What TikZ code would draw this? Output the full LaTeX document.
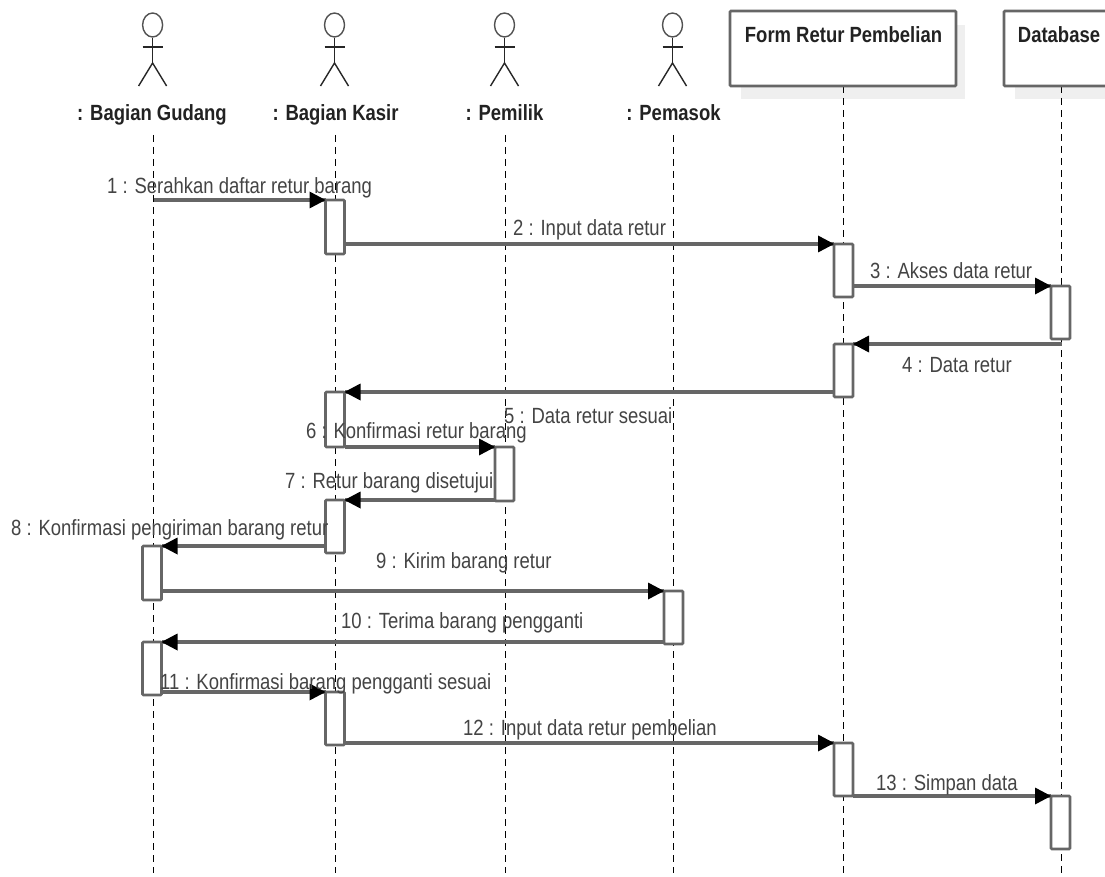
\documentclass[tikz,border=0pt]{standalone}
\usepackage{fontspec}
\setmainfont[FakeStretch=0.84]{Liberation Sans}
\definecolor{linegrey}{HTML}{666666}
\definecolor{shadowgrey}{HTML}{EFEFEF}
\definecolor{msgtext}{HTML}{444444}
\definecolor{headtext}{HTML}{222222}
\usetikzlibrary{shapes.geometric}
\tikzset{
  lifeline/.style={draw=black,line width=1.5pt,dash pattern=on 7pt off 5pt},
  activation/.style={draw=linegrey,fill=white,line width=2.6pt,rounded corners=1pt,minimum width=19pt,inner sep=0pt,outer sep=0pt,anchor=north west},
  msg/.style={draw=linegrey,line width=3.2pt},
  msgtip/.style={fill=black,draw=none},
  objbox/.style={draw=linegrey,fill=white,line width=2.6pt,rounded corners=1pt,inner sep=0pt,outer sep=0pt,anchor=north west,minimum height=75pt},
  objshadow/.style={fill=shadowgrey,draw=none,inner sep=0pt,outer sep=0pt,anchor=north west,minimum height=74pt},
  msglabel/.style={anchor=base west,inner sep=0pt,text=msgtext,font=\fontsize{22pt}{24pt}\selectfont},
  headlabel/.style={anchor=base,inner sep=0pt,text=headtext,font=\fontsize{22pt}{24pt}\selectfont\bfseries},
  actorhead/.style={draw=linegrey!80!black,fill=white,line width=1.4pt,ellipse,minimum width=20pt,minimum height=24pt,inner sep=0pt},
  actorline/.style={draw=black!85,line width=1.4pt},
}
\newcommand{\msgarrow}[3]{%
  \draw[msg] (#1) -- (#2);
  \fill[msgtip] (#2) -- ++(#3*16pt,8.5pt) -- ++(0,-17pt) -- cycle;
}
\newcommand{\actor}[2]{%
  \node[actorhead] (#2head) at (#1,-25) {};
  \coordinate (#2neck) at (#1,-63);
  \coordinate (#2hipl) at (#1-14,-86);
  \coordinate (#2hipr) at (#1+14,-86);
  \coordinate (#2arml) at (#1-10,-47);
  \coordinate (#2armr) at (#1+10,-47);
  \draw[actorline] (#2head.south) -- (#2neck);
  \draw[actorline] (#2arml) -- (#2armr);
  \draw[actorline] (#2hipl) -- (#2neck) -- (#2hipr);
}
\begin{document}
\begin{tikzpicture}[x=1pt,y=1pt]
\useasboundingbox (0,0) rectangle (1105,-877);
\fill[white] (0,0) rectangle (1105,-877);

% object shadows
\node[objshadow,minimum width=224pt] (formshadow) at (741,-25) {};
\begin{scope}
\clip (0,0) rectangle (1105,-877);
\node[objshadow,minimum width=130pt] (dbshadow) at (1015,-25) {};
\end{scope}

% lifelines
\coordinate (gt) at (153.5,-135);  \coordinate (gb) at (153.5,-873);
\coordinate (kt) at (335.5,-135);\coordinate (kb) at (335.5,-873);
\coordinate (pt) at (505.5,-135);  \coordinate (pb) at (505.5,-873);
\coordinate (st) at (673.5,-135);\coordinate (sb) at (673.5,-873);
\coordinate (ft) at (843.5,-86); \coordinate (fb) at (843.5,-873);
\coordinate (dt) at (1061.5,-86);  \coordinate (db) at (1061.5,-873);
\draw[lifeline] (gt) -- (gb);
\draw[lifeline] (kt) -- (kb);
\draw[lifeline] (pt) -- (pb);
\draw[lifeline] (st) -- (sb);
\draw[lifeline] (ft) -- (fb);
\draw[lifeline] (dt) -- (db);

% objects
\node[objbox,minimum width=226pt] (form) at (730,-11) {};
\node[objbox,minimum width=130pt] (database) at (1004,-11) {};
\node[headlabel] (formlabel) at (843.5,-43) {Form Retur Pembelian};
\node[headlabel] (dblabel) at (1059,-43) {Database};

% actors
\actor{152.6}{gudang}
\actor{334.5}{kasir}
\actor{504.5}{pemilik}
\actor{672.5}{pemasok}
\node[headlabel] (gudanglabel) at (152,-121) {: Bagian Gudang};
\node[headlabel] (kasirlabel) at (335.5,-121) {: Bagian Kasir};
\node[headlabel] (pemiliklabel) at (504.5,-121) {: Pemilik};
\node[headlabel] (pemasoklabel) at (673.5,-121) {: Pemasok};

% activations
\node[activation,minimum height=54pt] (a1) at (325.5,-200) {};
\node[activation,minimum height=53pt] (a2) at (834,-244) {};
\node[activation,minimum height=53pt] (a3) at (1051,-286) {};
\node[activation,minimum height=53pt] (a4) at (834,-344) {};
\node[activation,minimum height=55pt] (a5) at (325.5,-392) {};
\node[activation,minimum height=54pt] (a6) at (495,-447) {};
\node[activation,minimum height=53pt] (a7) at (325.5,-500) {};
\node[activation,minimum height=54pt] (a8) at (142.5,-546) {};
\node[activation,minimum height=53pt] (a9) at (664,-591) {};
\node[activation,minimum height=53pt] (a10) at (142.5,-642) {};
\node[activation,minimum height=53pt] (a11) at (325.5,-692) {};
\node[activation,minimum height=53pt] (a12) at (834,-743) {};
\node[activation,minimum height=53pt] (a13) at (1051,-796) {};

% messages
\msgarrow{gt |- a1.north west}{a1.north west}{-1}
\msgarrow{a1.east |- a2.north west}{a2.north west}{-1}
\msgarrow{a2.east |- a3.north west}{a3.north west}{-1}
\msgarrow{dt |- a4.north east}{a4.north east}{1}
\msgarrow{a4.west |- a5.north east}{a5.north east}{1}
\msgarrow{a5.east |- a6.north west}{a6.north west}{-1}
\msgarrow{a6.west |- a7.north east}{a7.north east}{1}
\msgarrow{a7.west |- a8.north east}{a8.north east}{1}
\msgarrow{a8.east |- a9.north west}{a9.north west}{-1}
\msgarrow{a9.west |- a10.north east}{a10.north east}{1}
\msgarrow{a10.east |- a11.north west}{a11.north west}{-1}
\msgarrow{a11.east |- a12.north west}{a12.north west}{-1}
\msgarrow{a12.east |- a13.north west}{a13.north west}{-1}

% message labels
\node[msglabel] (l1) at (107,-194) {1 : Serahkan daftar retur barang};
\node[msglabel] (l2) at (513,-236) {2 : Input data retur};
\node[msglabel] (l3) at (870,-278) {3 : Akses data retur};
\node[msglabel] (l4) at (902,-372) {4 : Data retur};
\node[msglabel] (l5) at (504,-423) {5 : Data retur sesuai};
\node[msglabel] (l6) at (306,-438) {6 : Konfirmasi retur barang};
\node[msglabel] (l7) at (285,-488) {7 : Retur barang disetujui};
\node[msglabel] (l8) at (11,-535) {8 : Konfirmasi pengiriman barang retur};
\node[msglabel] (l9) at (376,-568) {9 : Kirim barang retur};
\node[msglabel] (l10) at (341,-628) {10 : Terima barang pengganti};
\node[msglabel] (l11) at (160,-689) {11 : Konfirmasi barang pengganti sesuai};
\node[msglabel] (l12) at (463,-735) {12 : Input data retur pembelian};
\node[msglabel] (l13) at (876,-790) {13 : Simpan data};
\end{tikzpicture}
\end{document}
